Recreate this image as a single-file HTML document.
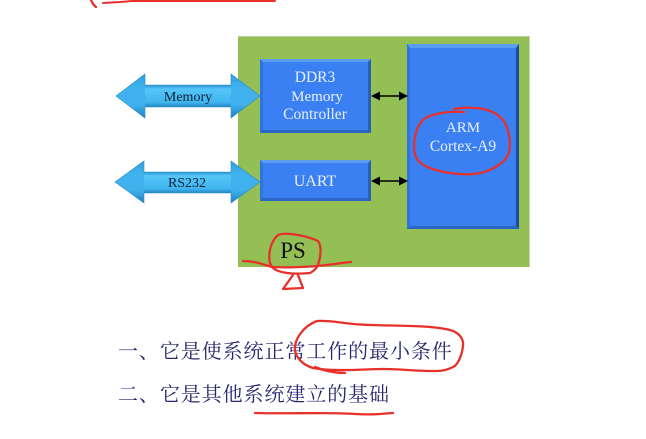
<!DOCTYPE html>
<html><head><meta charset="utf-8">
<style>
html,body{margin:0;padding:0;background:#fff;width:646px;height:439px;overflow:hidden}
svg{display:block;filter:blur(.35px)}
.t{font-family:"Liberation Serif",serif;text-anchor:middle}
.c{font-family:"Noto Serif CJK SC","Noto Sans CJK SC",serif;font-size:20px;fill:#26266e;letter-spacing:.92px}
.r{fill:none;stroke:#e8302a;stroke-linecap:round;stroke-linejoin:round}
</style></head><body>
<svg width="646" height="439" viewBox="0 0 646 439" xmlns="http://www.w3.org/2000/svg">
<defs>
<linearGradient id="ar" x1="0" y1="0" x2="0" y2="1">
<stop offset="0" stop-color="#2f9fdc"/><stop offset=".3" stop-color="#3fb2ee"/><stop offset=".7" stop-color="#3fb2ee"/><stop offset="1" stop-color="#1f80bc"/>
</linearGradient>
<linearGradient id="sh" x1="0" y1="0" x2="0" y2="1">
<stop offset="0" stop-color="#2a8fd0"/><stop offset=".18" stop-color="#55c6f8"/><stop offset=".8" stop-color="#40b4ee"/><stop offset="1" stop-color="#2384c2"/>
</linearGradient>
</defs>
<rect x="238" y="36" width="292" height="231" fill="#93bf55"/>
<rect x="238" y="36" width="292" height="1" fill="#b5cf9a"/>
<rect x="529" y="36" width="1" height="231" fill="#c4d8b0"/>

<!-- DDR3 -->
<g>
<rect x="260" y="59" width="111" height="74" fill="#3b80f3"/>
<polygon points="260,59 371,59 368,62 263,62" fill="#5a9cf0"/>
<polygon points="260,59 263,62 263,130 260,133" fill="#2f74dc"/>
<polygon points="371,59 368,62 368,130 371,133" fill="#2a5fb5"/>
<polygon points="260,133 263,130 368,130 371,133" fill="#2b66c4"/>
</g>
<!-- UART -->
<g>
<rect x="260" y="160" width="111" height="41" fill="#3b80f3"/>
<polygon points="260,160 371,160 368,163 263,163" fill="#5a9cf0"/>
<polygon points="260,160 263,163 263,198 260,201" fill="#2f74dc"/>
<polygon points="371,160 368,163 368,198 371,201" fill="#2a5fb5"/>
<polygon points="260,201 263,198 368,198 371,201" fill="#2b66c4"/>
</g>
<!-- ARM -->
<g>
<rect x="407" y="44" width="112" height="185" fill="#3b80f3"/>
<polygon points="407,44 519,44 516,48 410,48" fill="#5a9cf0"/>
<polygon points="407,44 410,48 410,226 407,229" fill="#2f74dc"/>
<polygon points="519,44 516,48 516,226 519,229" fill="#1f4c96"/>
<polygon points="407,229 410,226 516,226 519,229" fill="#2b66c4"/>
</g>

<!-- Wide arrows -->
<polygon points="116,96 145,74 145,85 231,85 231,74 260,96 231,118 231,107 145,107 145,118" fill="url(#ar)" stroke="#2a8cc8" stroke-width=".6"/>
<rect x="145" y="85" width="86" height="22" fill="url(#sh)"/>
<polygon points="115,182 144,161 144,172 231,172 231,161 260,182 231,203 231,193 144,193 144,203" fill="url(#ar)" stroke="#2a8cc8" stroke-width=".6"/>
<rect x="144" y="172" width="87" height="21" fill="url(#sh)"/>

<text class="t" x="188" y="101" font-size="14" fill="#10203a">Memory</text>
<text class="t" x="187" y="187" font-size="14" fill="#10203a">RS232</text>

<text class="t" x="315" y="82" font-size="15.5" fill="#e6f0ff">DDR3</text>
<text class="t" x="317" y="101" font-size="15" fill="#e6f0ff">Memory</text>
<text class="t" x="315" y="119" font-size="15.5" fill="#e6f0ff">Controller</text>
<text class="t" x="315" y="186" font-size="16" fill="#e6f0ff">UART</text>
<text class="t" x="463" y="132" font-size="15" fill="#e6f0ff">ARM</text>
<text class="t" x="463" y="151" font-size="15.5" fill="#e6f0ff">Cortex-A9</text>
<text class="t" x="293" y="258" font-size="23" fill="#111">PS</text>

<!-- Black double arrows -->
<g fill="#000" stroke="#000">
<line x1="376" y1="96" x2="403" y2="96" stroke-width="1.5"/>
<polygon points="371,96 380,91.5 380,100.5" stroke="none"/>
<polygon points="408,96 399,91.5 399,100.5" stroke="none"/>
<line x1="376" y1="181" x2="403" y2="181" stroke-width="1.5"/>
<polygon points="371,181 380,176.5 380,185.5" stroke="none"/>
<polygon points="408,181 399,176.5 399,185.5" stroke="none"/>
</g>

<!-- Chinese text -->
<text class="c" x="118" y="358">一、它是使系统正常工作的最小条件</text>
<text class="c" x="118" y="401">二、它是其他系统建立的基础</text>

<!-- Red annotations -->
<g class="r" stroke-width="2.3">
<path d="M91,0 L93,4 L96,7"/>
<path d="M103,3 L120,2 L132,1 L275,1" stroke-width="2"/>
<path d="M464,112 C450,111 437,113 427,117 C418,122 414,135 414,147 C414,158 419,165 433,169 C445,173 460,175 473,174 C490,173 503,163 507,157 C511,150 511,135 505,123 C500,114 488,108 473,108 C465,107 459,108 454,109"/>
<path d="M270,263 C268,255 270,242 278,235 C285,232 305,235 318,241 C322,246 321,258 317,267 C315,270 312,272 310,273 C300,274 295,274 287,273 C280,272 272,270 270,263"/>
<path d="M243,261 C255,261 262,264 272,267 C290,268 305,267 317,266 C330,265 340,263 351,262"/>
<polyline points="293,275 283,289 303,288 298,275"/>
<path d="M295,350 C294,340 303,326 317,321 C335,320 345,325 373,325 C395,326 430,325 450,330 C458,332 464,338 463,346 C462,355 458,365 453,367 C445,371 440,371 433,371 C415,371 400,369 383,369 C365,369 335,372 313,368 C303,365 296,358 295,350"/>
<path d="M315,367 C325,371 335,373 345,373"/>
<path d="M255,413 C290,414 330,412 355,414 C370,415 380,414 393,413"/>
</g>
</svg>
</body></html>
